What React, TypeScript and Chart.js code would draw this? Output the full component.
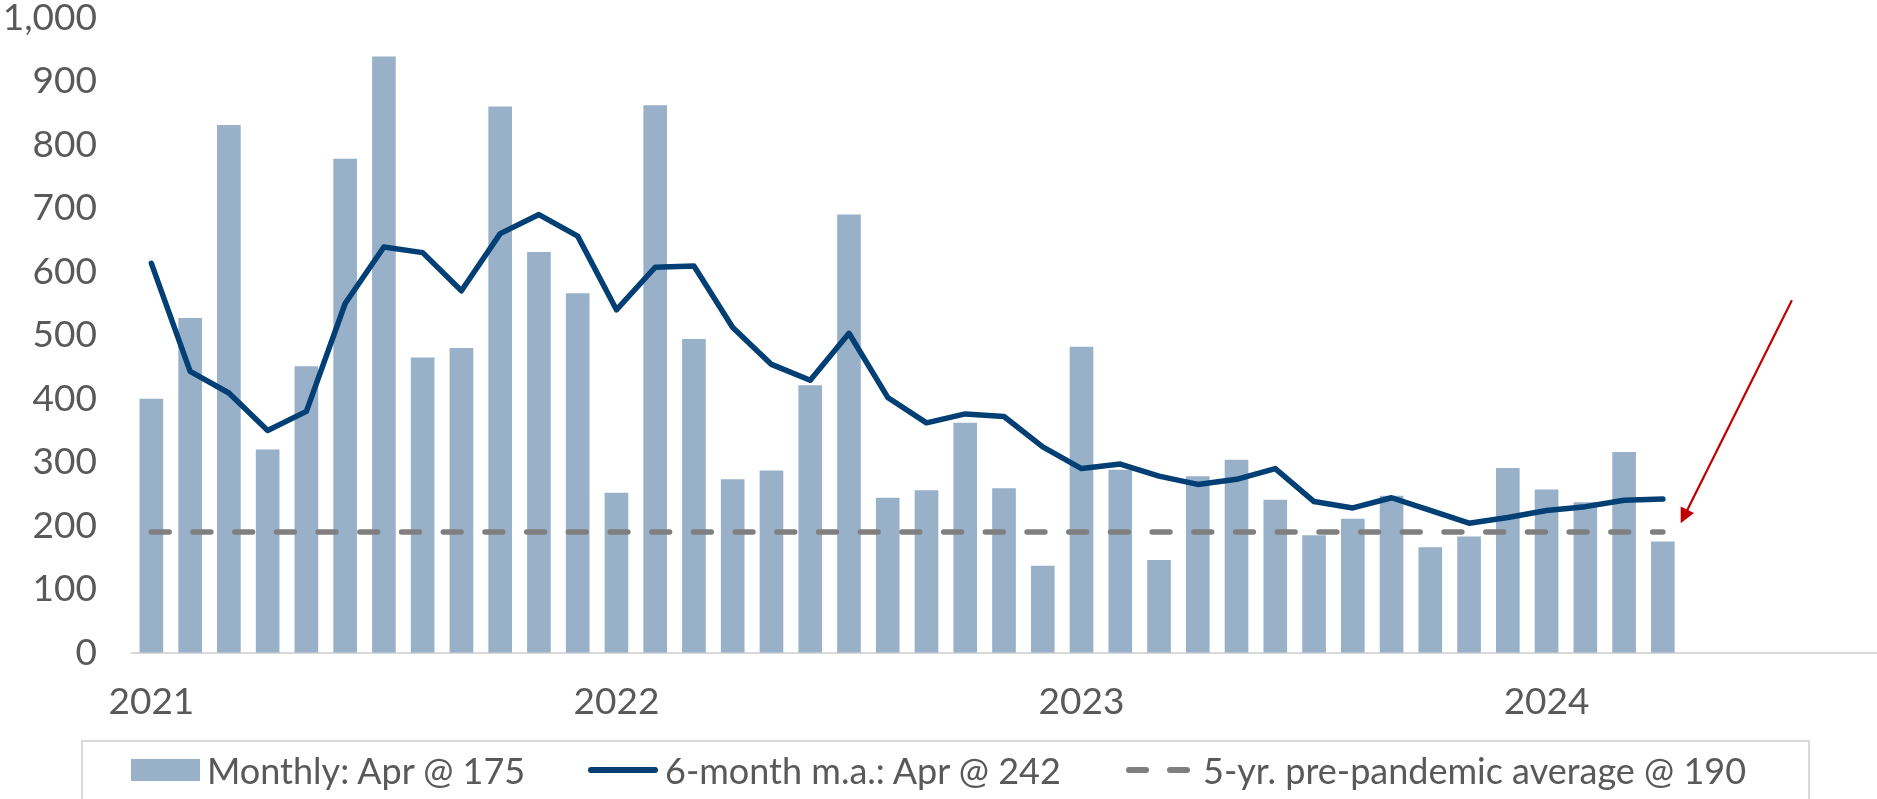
import React, { useEffect, useRef } from "react";
import { Chart, registerables } from "chart.js";

Chart.register(...registerables);

// ---- Data ----
const categories: string[] = [
  "Jan 2021","Feb 2021","Mar 2021","Apr 2021","May 2021","Jun 2021","Jul 2021","Aug 2021","Sep 2021","Oct 2021","Nov 2021","Dec 2021",
  "Jan 2022","Feb 2022","Mar 2022","Apr 2022","May 2022","Jun 2022","Jul 2022","Aug 2022","Sep 2022","Oct 2022","Nov 2022","Dec 2022",
  "Jan 2023","Feb 2023","Mar 2023","Apr 2023","May 2023","Jun 2023","Jul 2023","Aug 2023","Sep 2023","Oct 2023","Nov 2023","Dec 2023",
  "Jan 2024","Feb 2024","Mar 2024","Apr 2024","May 2024","Jun 2024","Jul 2024","Aug 2024","Sep 2024",
];

const monthly: number[] = [
  400, 527, 831, 320, 451, 778, 939, 465, 480, 860, 631, 566,
  252, 862, 494, 273, 287, 421, 690, 244, 256, 362, 259, 137,
  482, 288, 146, 278, 304, 241, 185, 211, 247, 166, 183, 291,
  257, 237, 316, 175,
];

const movingAvg: number[] = [
  613, 443, 409, 350, 380, 550, 639, 630, 570, 660, 690, 656,
  540, 607, 609, 512, 454, 429, 503, 402, 362, 376, 372, 324,
  290, 297, 278, 265, 273, 290, 238, 228, 244, 224, 204, 213,
  224, 230, 240, 242,
];

const prePandemicAvg: number[] = [
  190, 190, 190, 190, 190, 190, 190, 190, 190, 190, 190, 190,
  190, 190, 190, 190, 190, 190, 190, 190, 190, 190, 190, 190,
  190, 190, 190, 190, 190, 190, 190, 190, 190, 190, 190, 190,
  190, 190, 190, 190,
];

const yearTickLabels: string[] = ["2021", "2022", "2023", "2024"];

const legendLabels: string[] = [
  "Monthly: Apr @ 175",
  "6-month m.a.: Apr @ 242",
  "5-yr. pre-pandemic average @ 190",
];

// arrow annotation in data space: [category index, value]
const arrowFrom: number[] = [42.33, 555];
const arrowTo: number[] = [39.46, 204];

const BAR_COLOR = "#98B0C8";
const LINE_COLOR = "#023F75";
const DASH_COLOR = "#7F7F7F";
const TEXT_COLOR = "#595959";
const FONT = "Lato, 'Noto Sans', sans-serif";

const arrowPlugin = {
  id: "arrowPlugin",
  afterDatasetsDraw(chart: any) {
    const { ctx, scales } = chart;
    const x1 = scales.x.getPixelForValue(arrowFrom[0]);
    const y1 = scales.y.getPixelForValue(arrowFrom[1]);
    const x2 = scales.x.getPixelForValue(arrowTo[0]);
    const y2 = scales.y.getPixelForValue(arrowTo[1]);
    const ang = Math.atan2(y2 - y1, x2 - x1);
    const headLen = 15;
    const headW = 7.5;
    ctx.save();
    ctx.strokeStyle = "#C00000";
    ctx.fillStyle = "#C00000";
    ctx.lineWidth = 2.2;
    ctx.beginPath();
    ctx.moveTo(x1, y1);
    ctx.lineTo(x2 - Math.cos(ang) * headLen * 0.8, y2 - Math.sin(ang) * headLen * 0.8);
    ctx.stroke();
    const bx = x2 - Math.cos(ang) * headLen;
    const by = y2 - Math.sin(ang) * headLen;
    ctx.beginPath();
    ctx.moveTo(x2, y2);
    ctx.lineTo(bx + Math.sin(ang) * headW, by - Math.cos(ang) * headW);
    ctx.lineTo(bx - Math.sin(ang) * headW, by + Math.cos(ang) * headW);
    ctx.closePath();
    ctx.fill();
    ctx.restore();
  },
};

export default function App() {
  const canvasRef = useRef<HTMLCanvasElement | null>(null);

  useEffect(() => {
    document.body.style.margin = "0";
    const canvas = canvasRef.current;
    if (!canvas) return;
    const chart = new Chart(canvas, {
      type: "bar",
      data: {
        labels: categories,
        datasets: [
          {
            type: "line",
            label: legendLabels[1],
            data: movingAvg,
            borderColor: LINE_COLOR,
            borderWidth: 5.5,
            pointRadius: 0,
            borderCapStyle: "round",
            borderJoinStyle: "round",
            tension: 0,
            order: 0,
          } as any,
          {
            type: "line",
            label: legendLabels[2],
            data: prePandemicAvg,
            borderColor: DASH_COLOR,
            borderWidth: 5.5,
            borderDash: [17.8, 23.9],
            borderCapStyle: "round",
            pointRadius: 0,
            order: 1,
          } as any,
          {
            type: "bar",
            label: legendLabels[0],
            data: monthly,
            backgroundColor: BAR_COLOR,
            barPercentage: 0.61,
            categoryPercentage: 1,
            order: 2,
          },
        ],
      },
      options: {
        responsive: false,
        animation: false,
        devicePixelRatio: 1,
        layout: { padding: { top: 17.7, right: 1, bottom: 78.3, left: 0 } },
        plugins: {
          legend: { display: false },
          tooltip: { enabled: false },
        },
        scales: {
          x: {
            grid: { display: false, drawTicks: false },
            border: { display: true, color: "#D9D9D9", width: 2 },
            afterFit: (scale: any) => {
              scale.height = 68;
              scale.paddingLeft = 0;
              scale.paddingRight = 0;
              scale.paddingTop = 0;
              scale.paddingBottom = 0;
            },
            ticks: {
              autoSkip: false,
              maxRotation: 0,
              padding: 31,
              color: TEXT_COLOR,
              font: { family: FONT, size: 37, lineHeight: 1 },
              callback: (_v: any, i: number) => (i % 12 === 0 ? yearTickLabels[i / 12] ?? "" : ""),
            },
          },
          y: {
            min: 0,
            max: 1000,
            grid: { display: false, drawTicks: false },
            border: { display: false },
            afterFit: (scale: any) => {
              scale.width = 132;
              scale.paddingTop = 0;
              scale.paddingBottom = 0;
              scale.paddingLeft = 0;
              scale.paddingRight = 0;
            },
            ticks: {
              stepSize: 100,
              padding: 35,
              color: TEXT_COLOR,
              font: { family: FONT, size: 37, lineHeight: 1 },
              callback: (v: any) => Number(v).toLocaleString("en-US"),
            },
          },
        },
      },
      plugins: [arrowPlugin],
    });
    return () => chart.destroy();
  }, []);

  const textStyle: React.CSSProperties = {
    position: "absolute",
    top: 0,
    height: 40,
    lineHeight: "40px",
    fontFamily: FONT,
    fontSize: 36,
    color: TEXT_COLOR,
    whiteSpace: "nowrap",
  };

  return (
    <div style={{ position: "relative", width: 1877, height: 799, overflow: "hidden", background: "#fff" }}>
      <canvas ref={canvasRef} width={1877} height={799} style={{ width: 1877, height: 799, display: "block" }} />
      <div
        style={{
          position: "absolute",
          left: 81,
          top: 740,
          width: 1729,
          height: 80,
          border: "2px solid #D9D9D9",
          boxSizing: "border-box",
        }}
      />
      <div style={{ position: "absolute", left: 0, top: 750, width: 1877, height: 40 }}>
        <div style={{ position: "absolute", left: 131, top: 9, width: 69, height: 22, background: BAR_COLOR }} />
        <span style={{ ...textStyle, left: 207 }}>{legendLabels[0]}</span>
        <div style={{ position: "absolute", left: 588, top: 17, width: 70, height: 6, borderRadius: 3, background: LINE_COLOR }} />
        <span style={{ ...textStyle, left: 665 }}>{legendLabels[1]}</span>
        <div style={{ position: "absolute", left: 1126, top: 17, width: 23, height: 6, borderRadius: 3, background: DASH_COLOR }} />
        <div style={{ position: "absolute", left: 1167, top: 17, width: 23, height: 6, borderRadius: 3, background: DASH_COLOR }} />
        <span style={{ ...textStyle, left: 1203 }}>{legendLabels[2]}</span>
      </div>
    </div>
  );
}
